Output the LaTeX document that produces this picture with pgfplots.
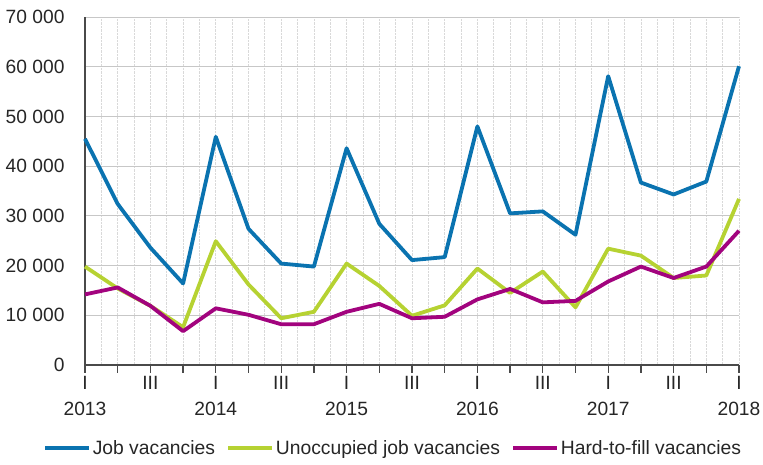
\documentclass[border=0pt]{standalone}
\usepackage{pgfplots}
\pgfplotsset{compat=1.18}
\usepackage{fontspec}
\setmainfont{Liberation Sans}
\definecolor{cblue}{HTML}{0A73B0}
\definecolor{cgreen}{HTML}{B6D232}
\definecolor{cpurple}{HTML}{A2037E}
\definecolor{axgray}{HTML}{4A4A4A}
\begin{document}
\begin{tikzpicture}
\path[use as bounding box] (-85pt,-100pt) rectangle (678pt,365pt);
\begin{axis}[
  at={(0pt,0pt)}, anchor=south west,
  scale only axis, width=654pt, height=348pt,
  xmin=0, xmax=20, ymin=0, ymax=70000,
  axis lines=left, axis line style={-, axgray, line width=1.5pt},
  xtick={0,...,20},
  xticklabels={{I\\2013},,III,,{I\\2014},,III,,{I\\2015},,III,,{I\\2016},,III,,{I\\2017},,III,,{I\\2018}},
  minor x tick num=1,
  ytick={0,10000,...,70000},
  scaled y ticks=false,
  /pgf/number format/1000 sep={\ },
  /pgf/number format/assume math mode=true,
  tick align=outside,
  major tick length=8pt, minor tick length=0pt,
  x tick style={axgray, line width=1.3pt},
  y tick style={draw=none},
  xmajorgrids, xminorgrids, ymajorgrids,
  x grid style={densely dotted, black!15, line width=0.8pt},
  y grid style={black!22, line width=0.8pt},
  ticklabel style={font=\fontsize{19.2}{26}\selectfont, text=black!85},
  xticklabel style={align=center},
  yticklabel style={xshift=-9pt},
  legend style={at={(0.471,-0.2385)}, anchor=center, draw=none, fill=none,
    legend columns=3, font=\fontsize{19.3}{22}\selectfont, text=black!85,
    /tikz/every even column/.append style={column sep=10pt},
    inner sep=0pt, nodes={inner sep=1.5pt}},
  legend image code/.code={\draw[#1, line width=3.8pt] (0pt,0pt) -- (44pt,0pt);},
  every axis plot/.append style={line width=3.8pt, line join=round},
  clip=false,
]
\addplot[cblue, mark=none] coordinates {
(0,45500) (1,32400) (2,23600) (3,16400) (4,45900) (5,27400) (6,20400) (7,19800)
(8,43600) (9,28400) (10,21100) (11,21700) (12,48000) (13,30500) (14,30900)
(15,26200) (16,58100) (17,36700) (18,34300) (19,36900) (20,60100)};
\addlegendentry{Job vacancies}
\addplot[cgreen, mark=none] coordinates {
(0,19800) (1,15400) (2,11900) (3,7600) (4,24900) (5,16200) (6,9400) (7,10700)
(8,20400) (9,15900) (10,9900) (11,12000) (12,19400) (13,14500) (14,18800)
(15,11600) (16,23400) (17,22000) (18,17500) (19,18000) (20,33400)};
\addlegendentry{Unoccupied job vacancies}
\addplot[cpurple, mark=none] coordinates {
(0,14200) (1,15600) (2,11900) (3,6800) (4,11400) (5,10100) (6,8200) (7,8200)
(8,10700) (9,12300) (10,9400) (11,9700) (12,13200) (13,15300) (14,12600)
(15,12900) (16,16800) (17,19800) (18,17500) (19,19800) (20,27000)};
\addlegendentry{Hard-to-fill vacancies}
\end{axis}
\end{tikzpicture}
\end{document}
